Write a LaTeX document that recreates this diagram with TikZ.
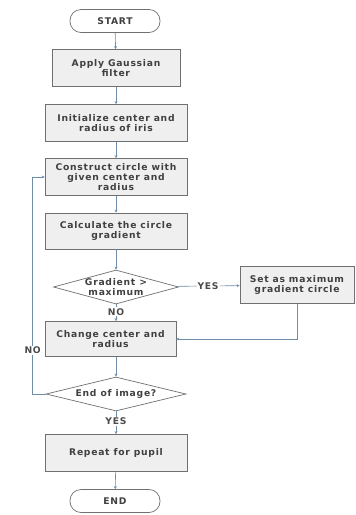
\documentclass[tikz,border=0pt]{standalone}
\usepackage{fontspec}
\setmainfont{DejaVu Sans}
\newfontfamily\flowfont[LetterSpace=8]{DejaVu Sans}
\usetikzlibrary{arrows.meta,shapes.geometric}

\definecolor{boxfill}{HTML}{EFEFEF}
\definecolor{boxline}{HTML}{707070}
\definecolor{flowline}{HTML}{6F8CA8}

\begin{document}
\begin{tikzpicture}[
  x=1pt, y=-1pt,
  font=\flowfont\fontsize{9.2}{9.6}\selectfont\bfseries,
  terminal/.style={draw=boxline, line width=0.7pt, fill=white,
    rounded corners=11pt, minimum width=90pt, minimum height=23pt,
    inner sep=0pt, text=black!75},
  procbox/.style={draw=boxline, line width=0.7pt, fill=boxfill,
    align=center, minimum width=142pt, minimum height=37pt,
    inner sep=1pt, text=black!75},
  decision/.style={diamond, draw=boxline, line width=0.7pt, fill=white,
    align=center, aspect=3.6, inner sep=0pt, text=black!75},
  arrow/.style={-{Stealth[length=3pt,width=3pt]}, line width=0.6pt, flowline},
  lbl/.style={fill=white, inner sep=1pt, text=black!70}
]
\useasboundingbox (0,0) rectangle (356,515);

% Main column
\node[terminal] (start) at (115,21) {START};
\node[procbox, minimum width=128pt] (gauss) at (116,68)
  {Apply Gaussian\\filter};
\node[procbox] (init) at (116,123)
  {Initialize center and\\radius of iris};
\node[procbox] (construct) at (116,177)
  {Construct circle with\\given center and\\radius};
\node[procbox, minimum height=36pt] (calc) at (116,231)
  {Calculate the circle\\gradient};
\node[decision, minimum width=125pt, minimum height=34pt] (grad) at (116,287)
  {Gradient >\\maximum};
\node[procbox, minimum width=114pt] (setmax) at (297,285)
  {Set as maximum\\gradient circle};
\node[procbox, minimum width=131pt, minimum height=35pt] (change) at (110.5,339)
  {Change center and\\radius};
\node[decision, minimum width=140pt, minimum height=34pt] (endimg) at (116,394)
  {End of image?};
\node[procbox] (repeat) at (116,453)
  {Repeat for pupil};
\node[terminal] (stop) at (115,501) {END};

% Arrows
\draw[arrow] (start) -- (gauss);
\draw[arrow] (gauss) -- (init);
\draw[arrow] (init) -- (construct);
\draw[arrow] (construct) -- (calc);
\draw[arrow] (calc) -- (grad);
\draw[arrow] (grad) -- node[lbl] {YES} (setmax);
\draw[arrow] (grad.south) -- node[lbl, pos=0.45] {NO} (grad.south |- change.north);
\draw[arrow] (setmax.south) |- (change.east);
\draw[arrow] (change.south -| endimg.north) -- (endimg);
\draw[arrow] (endimg) -- node[lbl, pos=0.45] {YES} (repeat);
\draw[arrow] (repeat) -- (stop);
\draw[arrow] (endimg.west) -- ++(-13,0) |- node[lbl, pos=0.1] {NO} (construct.west);

\end{tikzpicture}
\end{document}
